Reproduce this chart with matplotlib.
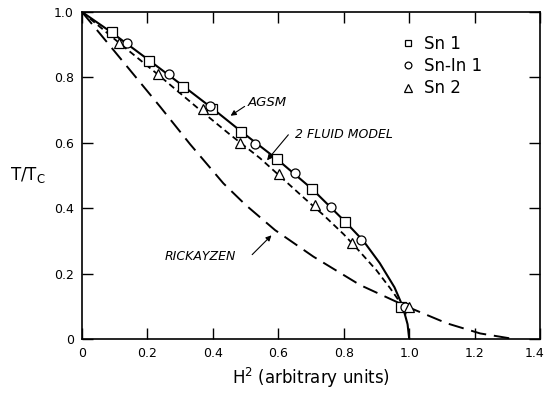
import matplotlib
matplotlib.use('Agg')
from matplotlib import pyplot as plt
from matplotlib import transforms as mtrans

# ---- data: x = H^2 (arbitrary), y = T/Tc ----
agsm_x = [0.0, 0.091, 0.204, 0.31, 0.40, 0.486, 0.597, 0.704, 0.804, 0.86, 0.91, 0.955, 0.980, 0.995, 1.0]
agsm_y = [1.0, 0.937, 0.853, 0.773, 0.704, 0.635, 0.549, 0.458, 0.359, 0.300, 0.232, 0.158, 0.100, 0.045, 0.0]

fluid_x = [0.0, 0.114, 0.233, 0.361, 0.45, 0.544, 0.606, 0.680, 0.738, 0.80, 0.84, 0.90, 0.942, 0.975, 0.990]
fluid_y = [1.0, 0.905, 0.808, 0.700, 0.627, 0.553, 0.497, 0.430, 0.379, 0.320, 0.277, 0.210, 0.155, 0.108, 0.075]

rick_x = [0.0, 0.10, 0.239, 0.33, 0.432, 0.50, 0.59, 0.707, 0.85, 0.993, 1.115, 1.217, 1.32]
rick_y = [1.0, 0.879, 0.710, 0.596, 0.476, 0.410, 0.333, 0.252, 0.165, 0.099, 0.048, 0.017, 0.0]

sn1_x = [0.091, 0.204, 0.310, 0.397, 0.486, 0.597, 0.704, 0.804, 0.975]
sn1_y = [0.939, 0.850, 0.772, 0.702, 0.634, 0.549, 0.458, 0.359, 0.097]

snin_x = [0.137, 0.265, 0.390, 0.528, 0.652, 0.760, 0.853, 0.986]
snin_y = [0.904, 0.810, 0.713, 0.596, 0.509, 0.403, 0.303, 0.097]

sn2_x = [0.114, 0.233, 0.369, 0.484, 0.602, 0.713, 0.825, 0.998]
sn2_y = [0.904, 0.810, 0.702, 0.598, 0.505, 0.410, 0.293, 0.097]

x_ticks = [0, 0.2, 0.4, 0.6, 0.8, 1.0, 1.2, 1.4]
x_labels = ['0', '0.2', '0.4', '0.6', '0.8', '1.0', '1.2', '1.4']
y_ticks = [0, 0.2, 0.4, 0.6, 0.8, 1.0]
y_labels = ['0', '0.2', '0.4', '0.6', '0.8', '1.0']

plt.rcParams['font.family'] = ['DejaVu Sans']

fig = plt.figure(figsize=(5.45, 3.93), dpi=100)
ax = fig.add_axes([0.1505, 0.1374, 0.8405, 0.8321])

# curves
ax.plot(agsm_x, agsm_y, color='black', lw=1.5)
ax.plot(fluid_x, fluid_y, color='black', lw=1.3, dashes=(3.5, 2.2))
ax.plot(rick_x, rick_y, color='black', lw=1.4, dashes=(8, 4))

# measured points
mk = dict(linestyle='none', markerfacecolor='white', markeredgecolor='black',
          markeredgewidth=0.9, color='black')
ax.plot(sn1_x, sn1_y, marker='s', markersize=6.5, label='Sn 1', **mk)
ax.plot(snin_x, snin_y, marker='o', markersize=6.5, label='Sn-In 1', **mk)
ax.plot(sn2_x, sn2_y, marker='^', markersize=7, label='Sn 2', **mk)

# labels with arrows
arr = dict(arrowstyle='-|>', lw=0.8, color='black', mutation_scale=8)
ax.annotate('', xy=(0.447, 0.678), xytext=(0.504, 0.716), arrowprops=arr)
ax.text(0.507, 0.723, 'AGSM', fontsize=9.5, style='italic', ha='left', va='center')

ax.annotate('', xy=(0.560, 0.540), xytext=(0.636, 0.631), arrowprops=arr)
ax.text(0.651, 0.624, '2 FLUID MODEL', fontsize=9, style='italic', ha='left', va='center')

ax.annotate('', xy=(0.585, 0.323), xytext=(0.514, 0.252), arrowprops=arr)
ax.text(0.254, 0.252, 'RICKAYZEN', fontsize=9, style='italic', ha='left', va='center')

leg = ax.legend(loc='upper left', bbox_to_anchor=(0.678, 0.95), frameon=False,
                markerscale=0.75, handlelength=1.0, handletextpad=0.5,
                labelspacing=0.25, fontsize=12, borderaxespad=0)

ax.set_xlim(0, 1.4)
ax.set_ylim(0, 1.0)
ax.set_xticks(x_ticks)
ax.set_xticklabels(x_labels)
ax.set_yticks(y_ticks)
ax.set_yticklabels(y_labels)
ax.tick_params(direction='in', top=True, right=True, length=8, width=1,
               labelsize=9, pad=6)
for s in ax.spines.values():
    s.set_linewidth(1.2)

# last x label sits against the right edge in the original
last = ax.get_xticklabels()[-1]
last.set_transform(last.get_transform() + mtrans.ScaledTranslation(-4 / 72, 0, fig.dpi_scale_trans))

ax.set_xlabel('H$^2$ (arbitrary units)', fontsize=12, va='center')
ax.xaxis.set_label_coords(0.5, -0.118)
ax.set_ylabel('T/T$_\\mathrm{C}$', fontsize=12, rotation=0, va='center', ha='center')
ax.yaxis.set_label_coords(-0.118, 0.5)

fig.savefig('out.png', dpi=100)
